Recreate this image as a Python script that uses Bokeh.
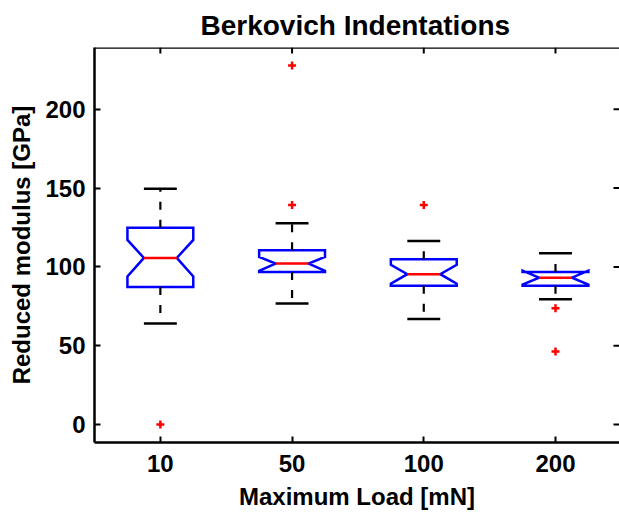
import math
from bokeh.plotting import figure
from bokeh.models import Range1d, FixedTicker, Span
from bokeh.embed import file_html
from bokeh.resources import INLINE

# ---- data ----
categories = ["10", "50", "100", "200"]
positions = [1, 2, 3, 4]
upper_whisker = [149.6, 127.7, 116.5, 108.7]
q3 = [124.9, 110.6, 104.9, 96.8]
notch_hi = [117.1, 106.3, 101.3, 97.6]
median = [105.7, 102.1, 95.4, 93.2]
notch_lo = [93.9, 97.5, 89.4, 88.8]
q1 = [87.3, 96.8, 88.0, 88.0]
lower_whisker = [64.1, 76.8, 66.9, 79.5]
outlier_pos = [1, 2, 2, 3, 4, 4]
outlier_val = [0.0, 227.8, 139.2, 139.2, 73.8, 46.4]
y_ticks = [0, 50, 100, 150, 200]

FONT = "Liberation Sans"
BOX_HW = 0.25
NOTCH_HW = 0.125
X_START, X_END = 0.5, 4.486
Y_START, Y_END = -11.4, 239.2

p = figure(width=619, height=513,
           x_range=Range1d(X_START, X_END), y_range=Range1d(Y_START, Y_END),
           output_backend="svg", toolbar_location=None,
           min_border_left=94, min_border_right=0, min_border_top=46, min_border_bottom=71)
p.background_fill_color = "white"
p.border_fill_color = "white"
p.outline_line_color = None
p.xgrid.visible = False
p.ygrid.visible = False

# title
p.title.text = "Berkovich Indentations"
p.title.text_font = FONT
p.title.text_font_style = "bold"
p.title.text_font_size = "28px"
p.title.text_color = "black"
p.title.align = "left"
p.title.offset = 106
p.title.standoff = 14

# boxes (notched polygons)
xs, ys = [], []
for x, a, nh, m, nl, b in zip(positions, q3, notch_hi, median, notch_lo, q1):
    xs.append([x - BOX_HW, x - BOX_HW, x - NOTCH_HW, x - BOX_HW, x - BOX_HW,
               x + BOX_HW, x + BOX_HW, x + NOTCH_HW, x + BOX_HW, x + BOX_HW])
    ys.append([a, nh, m, nl, b, b, nl, m, nh, a])
p.patches(xs, ys, fill_color=None, line_color="#0000ff", line_width=2.5, line_join="miter")

# whiskers (dashed)
p.segment(x0=positions, y0=q3, x1=positions, y1=upper_whisker,
          line_color="black", line_width=2.2, line_dash="8 10")
p.segment(x0=positions, y0=q1, x1=positions, y1=lower_whisker,
          line_color="black", line_width=2.2, line_dash="8 10")
# caps
p.segment(x0=[x - NOTCH_HW for x in positions], y0=upper_whisker,
          x1=[x + NOTCH_HW for x in positions], y1=upper_whisker,
          line_color="black", line_width=2.5)
p.segment(x0=[x - NOTCH_HW for x in positions], y0=lower_whisker,
          x1=[x + NOTCH_HW for x in positions], y1=lower_whisker,
          line_color="black", line_width=2.5)
# medians
p.segment(x0=[x - NOTCH_HW for x in positions], y0=median,
          x1=[x + NOTCH_HW for x in positions], y1=median,
          line_color="#ff0000", line_width=2.5)
# outliers
p.scatter(outlier_pos, outlier_val, marker="cross", size=8,
          line_color="#ff0000", line_width=2.5)

# mirrored box: top line, top ticks, right ticks
p.add_layout(Span(location=Y_END, dimension="width", line_color="black", line_width=2.5))
p.ray(x=positions, y=[Y_END] * len(positions), length=6, length_units="screen",
      angle=-math.pi / 2, line_color="black", line_width=2)
p.ray(x=[X_END] * len(y_ticks), y=y_ticks, length=6, length_units="screen",
      angle=math.pi, line_color="black", line_width=2)

# axes
for ax in p.xaxis + p.yaxis:
    ax.axis_line_width = 2.5
    ax.axis_line_color = "black"
    ax.major_tick_in = 6
    ax.major_tick_out = 0
    ax.major_tick_line_width = 2
    ax.minor_tick_line_color = None
    ax.major_label_text_font = FONT
    ax.major_label_text_font_style = "bold"
    ax.major_label_text_font_size = "24px"
    ax.major_label_text_color = "black"
    ax.axis_label_text_font = FONT
    ax.axis_label_text_font_style = "bold"
    ax.axis_label_text_font_size = "24px"
    ax.axis_label_text_color = "black"

p.xaxis.ticker = FixedTicker(ticks=positions)
p.xaxis.major_label_overrides = {pos: lab for pos, lab in zip(positions, categories)}
p.xaxis.axis_label = "Maximum Load [mN]"
p.yaxis.ticker = FixedTicker(ticks=y_ticks)
p.yaxis.axis_label = "Reduced modulus [GPa]"
p.xaxis.major_label_standoff = 12
p.yaxis.major_label_standoff = 9
p.xaxis.axis_label_standoff = 8
p.yaxis.axis_label_standoff = 7

open("out.html", "w").write(file_html(p, INLINE))
